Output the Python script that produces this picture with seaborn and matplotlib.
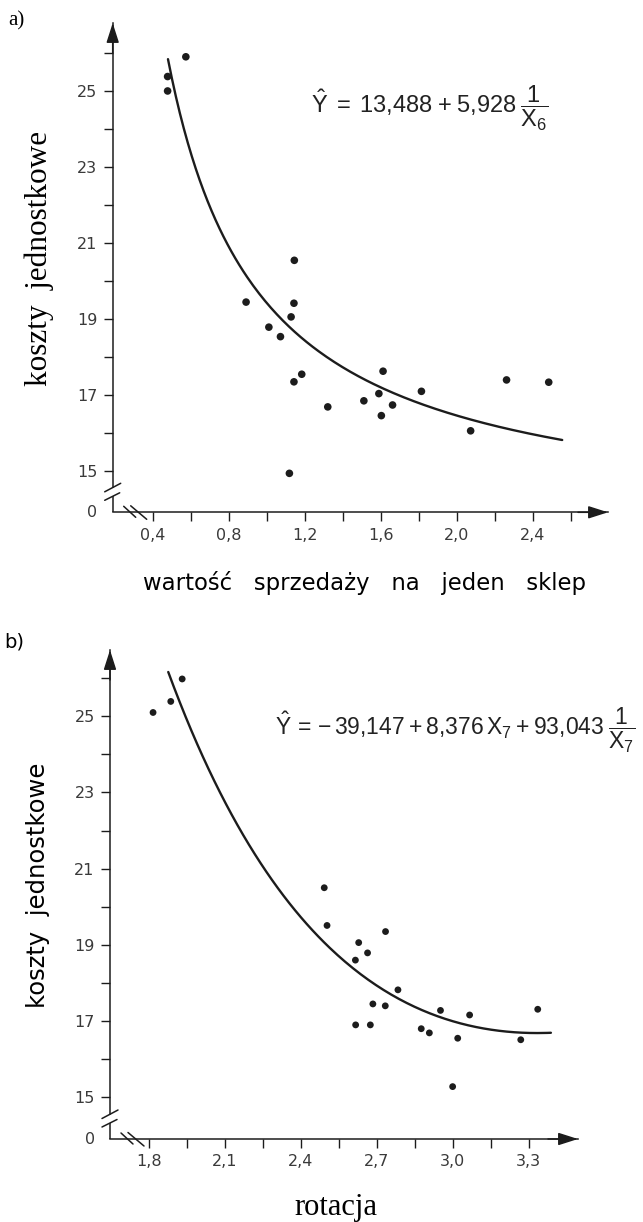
import numpy as np
import pandas as pd
import matplotlib
matplotlib.use("Agg")
import matplotlib.pyplot as plt
from matplotlib.patches import ArrowStyle
from matplotlib import font_manager
import seaborn as sns

# ---------------- data ----------------
# panel a) unit cost vs. sales value per shop
xa = [0.478, 0.478, 0.574, 0.891, 1.011, 1.072, 1.119, 1.128, 1.143, 1.143, 1.145,
      1.184, 1.321, 1.511, 1.590, 1.603, 1.612, 1.662, 1.814, 2.073, 2.262, 2.484]
ya = [25.38, 25.00, 25.90, 19.44, 18.78, 18.53, 14.93, 19.05, 19.41, 17.34, 20.54,
      17.54, 16.68, 16.84, 17.03, 16.45, 17.62, 16.73, 17.09, 16.05, 17.39, 17.33]
coef_a = [13.488, 5.928]            # Y = a0 + a1 / X6
curve_a_span = [0.48, 2.555]

# panel b) unit cost vs. rotation
xb = [1.816, 1.886, 1.931, 2.492, 2.503, 2.615, 2.616, 2.628, 2.663, 2.674, 2.684,
      2.733, 2.734, 2.783, 2.875, 2.907, 2.951, 2.999, 3.019, 3.066, 3.268, 3.335]
yb = [25.10, 25.39, 25.98, 20.50, 19.51, 18.60, 16.90, 19.06, 18.79, 16.90, 17.45,
      17.40, 19.35, 17.82, 16.80, 16.69, 17.28, 15.28, 16.55, 17.16, 16.51, 17.31]
coef_b = [-39.147, 8.376, 93.043]   # Y = b0 + b1*X7 + b2 / X7
curve_b_span = [1.876, 3.387]

y_ticks = [15, 17, 19, 21, 23, 25]
y_ticklabels = ["15", "17", "19", "21", "23", "25"]
y_minor = [16, 18, 20, 22, 24, 26]
xa_ticks = [0.4, 0.8, 1.2, 1.6, 2.0, 2.4]
xa_ticklabels = ["0,4", "0,8", "1,2", "1,6", "2,0", "2,4"]
xa_minor = [0.6, 1.0, 1.4, 1.8, 2.2, 2.6]
xb_ticks = [1.8, 2.1, 2.4, 2.7, 3.0, 3.3]
xb_ticklabels = ["1,8", "2,1", "2,4", "2,7", "3,0", "3,3"]
xb_minor = [1.95, 2.25, 2.55, 2.85, 3.15]

label_a = "a)"
label_b = "b)"
ylabel = "koszty  jednostkowe"
xlabel_a = "wartość   sprzedaży   na   jeden   sklep"
xlabel_b = "rotacja"
formula_a = (r"$\hat{\mathrm{Y}}\;{=}\;13{,}488\;{+}\;5{,}928\;"
             r"\dfrac{1}{\mathrm{X}_6}$")
formula_b = (r"$\hat{\mathrm{Y}}\,{=}\,{-}\,39{,}147\:{+}\:8{,}376\,\mathrm{X}_7"
             r"\:{+}\:93{,}043\;\dfrac{1}{\mathrm{X}_7}$")

# ---------------- styling ----------------
sns.set_style("white")
plt.rcParams["font.family"] = ["DejaVu Sans"]


def first_font(names):
    for n in names:
        try:
            font_manager.findfont(n, fallback_to_default=False)
            return n
        except Exception:
            pass
    return "DejaVu Sans"


FORMULA_FONT = first_font(["Liberation Sans", "Arimo", "DejaVu Sans"])
plt.rcParams["mathtext.fontset"] = "custom"
plt.rcParams["mathtext.rm"] = FORMULA_FONT
plt.rcParams["mathtext.it"] = FORMULA_FONT + ":italic"
plt.rcParams["mathtext.bf"] = FORMULA_FONT + ":bold"
plt.rcParams["mathtext.sf"] = FORMULA_FONT

INK = "#1c1c1c"
TICK_INK = "#3a3a3a"

W, H = 643, 1222
fig = plt.figure(figsize=(W / 100, H / 100), dpi=100)
fig.patch.set_facecolor("white")

# axes rectangles (pixels): left, right(arrow tip), bottom(axis), top(arrow tip)
geom_a = (112.7, 608.0, 512.3, 23.0)
geom_b = (110.0, 578.0, 1139.0, 650.0)


def make_axes(g):
    l, r, b, t = g
    return fig.add_axes([l / W, 1 - b / H, (r - l) / W, (b - t) / H])


axA = make_axes(geom_a)
axB = make_axes(geom_b)


def style(ax, g, xlim, ylim, xt, xtl, xm):
    l, r, b, t = g
    wpx, hpx = r - l, b - t
    ax.set_xlim(*xlim)
    ax.set_ylim(*ylim)
    ax.set_facecolor("none")
    sns.despine(ax=ax)
    for s in ("left", "bottom"):
        ax.spines[s].set_color(INK)
        ax.spines[s].set_linewidth(1.1)
    # y-axis broken near zero
    ppu = hpx / (ylim[1] - ylim[0])
    ax.spines["left"].set_bounds(ylim[0] + 25 / ppu, ylim[1])
    ax.plot([0, 0], [0, 16 / hpx], transform=ax.transAxes, color=INK, lw=1.1,
            clip_on=False, solid_capstyle="butt")
    # break marks
    for (x1, y1, x2, y2) in [(-8, 20.5, 8, 29), (-8, 12, 7, 19.5)]:
        ax.plot([x1 / wpx, x2 / wpx], [y1 / hpx, y2 / hpx], transform=ax.transAxes,
                color=INK, lw=1.1, clip_on=False)
    for (x1, y1, x2, y2) in [(11, 6, 23, -5), (18, 6.5, 34, -7)]:
        ax.plot([x1 / wpx, x2 / wpx], [y1 / hpx, y2 / hpx], transform=ax.transAxes,
                color=INK, lw=1.1, clip_on=False)
    # arrows
    arr = dict(arrowstyle=ArrowStyle("-|>", head_length=0.5, head_width=0.16),
               mutation_scale=24, color=INK, lw=1.1, shrinkA=0, shrinkB=0)
    ax.annotate("", xy=(1, 0), xytext=(1 - 30 / wpx, 0), xycoords="axes fraction",
                arrowprops=arr)
    ax.annotate("", xy=(0, 1), xytext=(0, 1 - 30 / hpx), xycoords="axes fraction",
                arrowprops=arr)
    # ticks
    ax.set_yticks(y_ticks, labels=y_ticklabels)
    ax.set_yticks(y_minor, minor=True)
    ax.set_xticks(xt, labels=xtl)
    ax.set_xticks(xm, minor=True)
    ax.tick_params(which="both", direction="out", length=6.5, width=1.0, color=INK,
                   labelsize=11.5, labelcolor=TICK_INK, pad=4.5)
    ax.tick_params(axis="y", which="both", left=True)
    ax.tick_params(axis="x", which="both", bottom=True)
    ax.annotate("0", xy=(0, 0), xycoords="axes fraction", xytext=(-11, 0),
                textcoords="offset points", ha="right", va="center",
                fontsize=11.5, color=TICK_INK)


style(axA, geom_a, (0.189, 2.796), (13.904, 26.79), xa_ticks, xa_ticklabels, xa_minor)
style(axB, geom_b, (1.646, 3.494), (13.905, 26.74), xb_ticks, xb_ticklabels, xb_minor)

# ---------------- marks ----------------
dfa = pd.DataFrame({"x": xa, "y": ya})
dfb = pd.DataFrame({"x": xb, "y": yb})
sns.scatterplot(data=dfa, x="x", y="y", ax=axA, s=30, color=INK, edgecolor="none",
                linewidth=0, zorder=3)
sns.scatterplot(data=dfb, x="x", y="y", ax=axB, s=24, color=INK, edgecolor="none",
                linewidth=0, zorder=3)

xs_a = np.linspace(curve_a_span[0], curve_a_span[1], 200)
ys_a = coef_a[0] + coef_a[1] / xs_a
xs_b = np.linspace(curve_b_span[0], curve_b_span[1], 200)
ys_b = coef_b[0] + coef_b[1] * xs_b + coef_b[2] / xs_b
sns.lineplot(x=xs_a, y=ys_a, ax=axA, color=INK, lw=1.7, sort=False, estimator=None)
sns.lineplot(x=xs_b, y=ys_b, ax=axB, color=INK, lw=1.7, sort=False, estimator=None)

for ax in (axA, axB):
    ax.set_xlabel("")
    ax.set_ylabel("")

# ---------------- texts ----------------
fig.text(8 / W, 1 - 25 / H, label_a, family="Liberation Serif", fontsize=15,
         color="black", va="baseline", ha="left")
fig.text(4 / W, 1 - 647 / H, label_b, family="DejaVu Sans", fontsize=14,
         color="black", va="baseline", ha="left")

fig.text(39 / W, 1 - 258 / H, ylabel, rotation=90, family="Liberation Serif",
         fontsize=22.5, ha="center", va="center", color="black")
fig.text(38 / W, 1 - 885 / H, ylabel, rotation=90, family="DejaVu Sans",
         fontsize=17.5, ha="center", va="center", color="black")

fig.text(364.5 / W, 1 - 590 / H, xlabel_a, family="DejaVu Sans", fontsize=16.4,
         ha="center", va="baseline", color="black")
fig.text(336 / W, 1 - 1215 / H, xlabel_b, family="Liberation Serif", fontsize=22,
         ha="center", va="baseline", color="black")

fig.text(311 / W, 1 - 108 / H, formula_a, fontsize=17, ha="left", va="center",
         color="#222222")
fig.text(275 / W, 1 - 730 / H, formula_b, fontsize=16.5, ha="left", va="center",
         color="#222222")

fig.savefig("out.png", dpi=100, facecolor="white")
